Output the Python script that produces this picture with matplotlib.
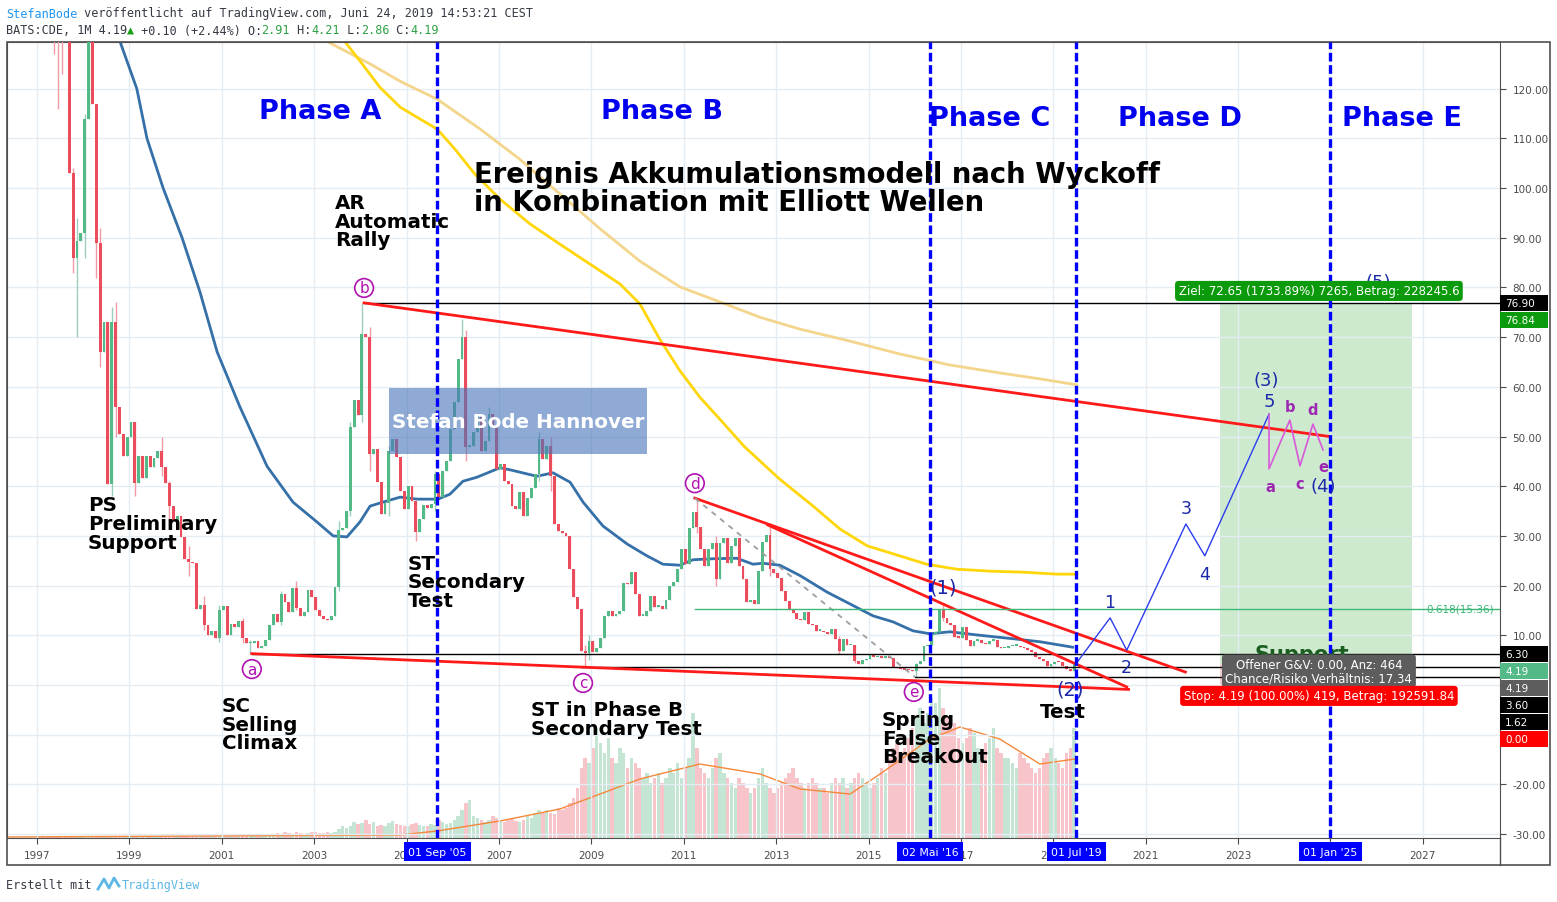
# Wyckoff accumulation + Elliott waves on CDE monthly chart (TradingView style)
import numpy as np
import matplotlib.pyplot as plt
from matplotlib.patches import Rectangle
from matplotlib.transforms import blended_transform_factory

# ---------------- data ----------------
# monthly closes from Jan 1997 to Jun 2019 (open = previous close)
first_open = 240.0
closes = [
    230, 215, 200, 185, 170, 160, 150, 140, 103, 86, 89.3, 91,          # 1997
    114, 138, 117, 89, 67, 73, 40.4, 73, 56, 50.5, 46, 50,               # 1998
    53, 40.7, 46, 41.7, 46, 43.8, 45.6, 47, 43.8, 40.6, 36, 33,          # 1999
    34, 29.7, 25.3, 24.7, 24.5, 15.3, 16, 12, 10, 10.8, 9.4, 15,         # 2000
    15.8, 10, 12.3, 11.7, 12.8, 9.4, 8.4, 8.5, 8.9, 7.4, 7.9, 9,         # 2001
    12, 14.3, 12.6, 18.3, 16.6, 14.6, 19.6, 15.5, 13.8, 14.7, 19.1, 17.8,  # 2002
    15.1, 13.8, 13.3, 13.0, 13.8, 19.8, 31.2, 31.5, 35, 52, 57.4, 54.3,  # 2003
    70.6, 70, 46.5, 47.5, 40.8, 34.4, 36.6, 47, 49.5, 45.9, 39, 35.4,    # 2004
    40, 37, 30.8, 33.4, 36.2, 35.6, 36.4, 42.5, 37.8, 43, 45, 51.5,      # 2005
    57, 65.6, 70, 47.9, 48, 50.9, 54, 47, 49, 54.5, 52, 43.5,            # 2006
    44.5, 41, 40.4, 36, 35.5, 38.8, 34, 37.6, 39.6, 42.4, 49.5, 45.5,    # 2007
    48, 42, 32.4, 31, 30.5, 30, 23.3, 17.7, 15.3, 6.8, 6.5, 8.9,         # 2008
    6.6, 7.4, 9.5, 13.9, 14.9, 13.8, 14.3, 14.9, 20.5, 20.3, 22.7, 18.3, # 2009
    13.9, 13.9, 14.9, 18, 15.7, 15.9, 15.3, 17, 19.9, 20.7, 23.3, 27.4,  # 2010
    24.3, 31.6, 34.8, 31.8, 27.4, 24, 27.4, 28.6, 21.3, 28.6, 29.6, 24.6,  # 2011
    28, 29.6, 24, 21.3, 16.7, 17, 16.3, 23, 28.8, 30.2, 23.3, 22.5,      # 2012
    21.5, 19, 16.8, 15, 14.5, 13.3, 13.0, 14.7, 12.3, 12.0, 10.9, 10.9,  # 2013
    10.6, 10.3, 11.2, 9.3, 6.8, 9.3, 8.0, 8.1, 4.8, 4.3, 5.0, 5.2,       # 2014
    6.0, 5.6, 5.6, 5.5, 5.8, 5.4, 3.6, 3.4, 3.2, 3.1, 3.0, 2.8,          # 2015
    4.2, 4.9, 7.8, 8.1, 10.3, 10.7, 15.3, 13.5, 12.5, 12.1, 9.7, 9.5,    # 2016
    11.7, 9.1, 7.8, 8.9, 9.0, 8.4, 8.2, 8.9, 9.0, 7.7, 7.4, 7.5,         # 2017
    7.8, 7.9, 7.9, 7.6, 7.4, 7.1, 6.6, 5.6, 5.3, 4.9, 3.8, 4.3,          # 2018
    4.7, 4.6, 3.9, 3.3, 2.91, 4.19,                                       # 2019
]
# months (index from Jan 1997) with visible wicks
wick_month = [4, 5, 6, 9, 10, 12, 15, 16, 19, 20, 25, 32, 34, 39, 43, 47, 53, 55,
              63, 67, 78, 81, 84, 86, 91, 98, 103, 110, 111, 117, 130, 133, 142, 143,
              171, 176, 190, 208, 212, 228, 235, 269]
wick_high = [195, 180, 170, 104, 94, 115, 117, 92, 76, 77, 52, 50, 41, 28, 18, 16, 13.5, 9.0,
             19, 21, 33, 53, 76.9, 72, 48, 37, 43, 73.6, 71.5, 56, 51, 50, 8, 10,
             37.6, 30, 32.5, 9.8, 8.0, 4.5, 16.5, 4.21]
wick_low = [127, 116, 123, 83, 70, 86, 82, 64, 38, 50, 38, 42, 33, 22, 11, 8.7, 8.5, 6.3,
            12, 15, 19, 34, 53, 43, 34, 29, 35, 66, 45, 49, 41, 39, 3.6, 5,
            30.5, 20, 22, 6.3, 4.5, 1.62, 12.8, 2.86]

# monthly volume (millions, roughly)
volume = [
    2, 2, 2, 2, 2, 2, 2, 2, 2, 2, 2, 2,
    2, 2, 2, 2, 2, 2, 2, 2, 2, 2, 2, 2,
    2, 2, 2, 2, 2, 2, 2, 2, 2, 2, 2, 2,
    2, 2, 2, 2, 2, 2, 2, 2, 2, 2, 2, 2,
    2, 2, 2, 2, 2, 2, 2, 3, 2, 2, 3, 3,
    3, 4, 5, 4, 6, 5, 4, 6, 5, 4, 5, 6,
    6, 5, 5, 6, 5, 6, 9, 12, 10, 12, 16, 14,
    15, 18, 14, 16, 12, 13, 12, 15, 17, 14, 13, 12,
    12, 14, 15, 13, 12, 12, 14, 13, 18, 16, 14, 15,
    18, 22, 28, 35, 38, 22, 20, 18, 16, 18, 22, 20,
    18, 16, 18, 20, 17, 16, 18, 22, 20, 25, 28, 25,
    28, 25, 24, 30, 28, 30, 35, 40, 50, 70, 80, 75,
    90, 110, 95, 85, 100, 80, 75, 90, 85, 70, 80, 75,
    70, 60, 65, 55, 60, 65, 55, 60, 70, 65, 75, 60,
    70, 80, 125, 90, 70, 65, 60, 70, 80, 85, 65, 60,
    55, 50, 60, 55, 50, 45, 50, 60, 70, 55, 50, 45,
    50, 55, 60, 65, 70, 60, 55, 50, 55, 60, 55, 50,
    50, 45, 55, 60, 55, 60, 50, 55, 60, 65, 60, 55,
    50, 55, 60, 70, 65, 80, 90, 95, 85, 90, 100, 110,
    120, 130, 115, 125, 140, 135, 150, 130, 120, 110, 115, 100,
    95, 100, 110, 105, 90, 85, 95, 100, 110, 90, 85, 80,
    80, 75, 70, 85, 80, 75, 70, 65, 70, 80, 85, 90,
    80, 75, 70, 85, 90, 110,
]

# moving averages (year, price)
blue_t = [1998.80, 1999.16, 1999.38, 1999.73, 2000.14, 2000.53, 2000.90, 2001.39, 2001.98,
          2002.54, 2003.06, 2003.41, 2003.71, 2003.99, 2004.21, 2004.49, 2004.86, 2005.23,
          2005.68, 2005.94, 2006.22, 2006.52, 2007.02, 2007.24, 2007.82, 2008.17, 2008.54,
          2008.82, 2009.25, 2009.77, 2010.20, 2010.55, 2010.92, 2011.20, 2011.63, 2012.15,
          2012.50, 2012.71, 2013.08, 2013.52, 2014.10, 2014.60, 2015.10, 2015.53, 2015.96,
          2016.33, 2016.76, 2017.41, 2018.13, 2018.71, 2019.29, 2019.42]
blue_v = [129.4, 120, 110, 100, 90, 79, 67, 56, 44,
          36.8, 32.8, 30, 29.8, 32.8, 36, 36.8, 37.8, 37.4,
          37.4, 38.4, 41, 41.8, 43.7, 43.3, 42, 42.7, 40.8,
          36.8, 32, 28.4, 26, 24.3, 24.1, 25.2, 25.4, 25.5,
          24.3, 24.5, 24.1, 22, 18.7, 16.3, 13.9, 12.7, 10.9,
          10.3, 10.7, 10, 9.3, 8.7, 7.8, 7.6]
yellow_t = [2003.67, 2003.99, 2004.42, 2004.86, 2005.29, 2005.66, 2006.05, 2006.48, 2007.02,
            2007.67, 2008.32, 2008.97, 2009.62, 2010.05, 2010.48, 2010.92, 2011.35, 2011.78,
            2012.32, 2013.08, 2013.80, 2014.38, 2014.97, 2015.53, 2016.26, 2016.91, 2017.63,
            2018.34, 2019.08, 2019.51]
yellow_v = [129.4, 125.6, 120.3, 116.3, 113.9, 111.9, 107.8, 102.8, 97.8,
            92.8, 88.7, 84.7, 80.7, 76.7, 69.6, 63.2, 57.9, 53.5,
            47.9, 41.4, 36.0, 31.4, 28.0, 26.4, 24.3, 23.3, 22.9,
            22.7, 22.3, 22.3]
pale_t = [2003.30, 2004.21, 2004.86, 2005.66, 2006.59, 2007.45, 2008.32, 2009.19, 2010.05,
          2010.92, 2011.78, 2012.65, 2013.52, 2014.60, 2015.68, 2016.76, 2017.84, 2018.71, 2019.51]
pale_v = [129.4, 125, 121.5, 117.9, 111.9, 105.8, 98.8, 91.8, 85.3,
          80.1, 77.1, 74.0, 71.6, 69.2, 66.6, 64.4, 62.8, 61.6, 60.4]
vma_t = [1996.35, 2004.86, 2005.66, 2007.02, 2008.32, 2009.19, 2010.05, 2011.35, 2012.65,
         2013.52, 2014.60, 2015.25, 2016.33, 2016.98, 2017.84, 2018.71, 2019.47]
vma_v = [1, 3, 7, 17, 29, 44, 59, 74, 64, 49, 44, 64, 99, 111, 99, 74, 79]

# drawings
phase_dates = [2005.667, 2016.333, 2019.5, 2025.0]
phase_tags = ["01 Sep '05", "02 Mai '16", "01 Jul '19", "01 Jan '25"]
level_start = [2004.08, 2001.65, 2008.80, 2016.0]
level_value = [76.9, 6.3, 3.6, 1.62]
red_lines = [((2004.08, 76.9), (2024.98, 50.0)),
             ((2001.65, 6.3), (2020.63, -0.9)),
             ((2011.24, 37.6), (2021.86, 2.6)),
             ((2012.82, 32.2), (2020.59, -0.4))]
fib_value = 15.36
proj_t = [2019.47, 2020.23, 2020.59, 2021.87, 2022.28, 2023.67]
proj_v = [4.0, 13.5, 7.0, 32.4, 26.0, 54.5]
tri_t = [2023.67, 2023.67, 2024.12, 2024.34, 2024.62, 2024.84]
tri_v = [54.5, 43.5, 53.3, 44.1, 52.5, 47.3]
entry, target, stop = 4.19, 76.84, 0.0
pos_t0, pos_t1 = 2022.60, 2026.76

# ---------------- figure ----------------
W, H = 1557, 903
fig = plt.figure(figsize=(W / 100, H / 100), dpi=100)
fig.patch.set_facecolor('white')

def fx(px):
    return px / W

def fy(py):
    return 1 - py / H

ax = fig.add_axes([fx(7), fy(839), fx(1500) - fx(7), fy(43) - fy(839)])
axv = ax.twinx()
ax.set_zorder(axv.get_zorder() + 1)
ax.patch.set_visible(False)
axv.set_facecolor('white')
ax.set_xlim(1996.35, 2028.67)
ax.set_ylim(-30.8, 129.4)
axv.set_ylim(0, 796)
axv.set_yticks([])

grid_c = '#e4edf3'
years = np.arange(1997, 2028, 2)
ax.set_xticks(years)
# 2025 sits fully under the date box
ax.set_xticklabels(['' if y == 2025 else str(y) for y in years])
ticks_y = np.arange(-30, 121, 10)
ax.set_yticks(ticks_y)
# 0 and -10 are hidden under the price tags on the scale
ax.set_yticklabels(['' if v in (0, -10) else '%.2f' % v for v in ticks_y])
ax.grid(True, color=grid_c, lw=1, zorder=0)
ax.yaxis.tick_right()
ax.tick_params(axis='y', labelsize=7.5, colors='#4b4b4b', length=4, pad=5)
ax.tick_params(axis='x', labelsize=7.5, colors='#4b4b4b', length=4, pad=5)
for s in ax.spines.values():
    s.set_color('#505050')
for s in axv.spines.values():
    s.set_visible(False)

# ---------------- candles + volume ----------------
months = np.arange(len(closes))
t = 1997 + (months + 0.4) / 12
c = np.array(closes, float)
o = np.concatenate([[first_open], c[:-1]])
up = c >= o
body_lo = np.minimum(o, c)
body_h = np.maximum(np.abs(c - o), 0.3)
w_hi = np.maximum(o, c)
w_lo = body_lo.copy()
for m, hv, lv in zip(wick_month, wick_high, wick_low):
    w_hi[m] = max(hv, w_hi[m])
    w_lo[m] = min(lv, w_lo[m])

axv.bar(t, volume, width=0.075, color=np.where(up, '#c4e5d3', '#f7c4ca'), zorder=1)
axv.plot(vma_t, vma_v, color='#f5883a', lw=1, zorder=2)

ax.plot(pale_t, pale_v, color='#f3d58c', lw=2, zorder=2)
ax.plot(yellow_t, yellow_v, color='#ffd60a', lw=2, zorder=2)
ax.plot(blue_t, blue_v, color='#3570a8', lw=2, zorder=2)

ax.vlines(t, w_lo, w_hi, colors=np.where(up, '#9ccfbb', '#f29aa3'), lw=1, zorder=3)
ax.bar(t, body_h, bottom=body_lo, width=0.062,
       color=np.where(up, '#53b987', '#eb4d5c'), zorder=3)

# ---------------- drawings ----------------
x_end = ax.get_xlim()[1]
for s0, v in zip(level_start, level_value):
    ax.plot([s0, x_end], [v, v], color='black', lw=1, zorder=4)
for (p0, p1) in red_lines:
    ax.plot([p0[0], p1[0]], [p0[1], p1[1]], color='#ff1a1a', lw=2, zorder=4)
ax.plot([2011.24, 2016.0], [37.6, 1.62], color='#9e9e9e', lw=1.3, ls=(0, (3, 3)), zorder=4)
ax.plot([2011.24, x_end], [fib_value, fib_value], color='#3cb878', lw=1, zorder=4)
ax.text(2028.55, fib_value, '0.618(15.36)', color='#3cb878', fontsize=7.5,
        ha='right', va='center', zorder=5)

# position tool
ax.add_patch(Rectangle((pos_t0, entry), pos_t1 - pos_t0, target - entry,
                       facecolor='#cdeacf', edgecolor='none', zorder=1))
ax.add_patch(Rectangle((pos_t0, stop), pos_t1 - pos_t0, entry - stop,
                       facecolor='#f6d0d3', edgecolor='none', zorder=1))
ax.text(2023.35, 6.2, 'Support', color='#1b5e20', fontsize=15, fontweight='bold',
        va='center', zorder=5)

# Elliott projection
ax.plot(proj_t, proj_v, color='#2b3df0', lw=1, zorder=4)
ax.plot(tri_t, tri_v, color='#d957d9', lw=1.2, zorder=4)

# vertical phase lines
bt = blended_transform_factory(ax.transData, ax.transAxes)
for d, tag in zip(phase_dates, phase_tags):
    ax.axvline(d, color='#0000ff', lw=2.4, ls=(0, (2.6, 1.1)), zorder=6)
    ax.text(d, -0.017, tag, transform=bt, ha='center', va='center', fontsize=7.8,
            color='white', zorder=10, clip_on=False,
            bbox=dict(boxstyle='square,pad=0.4', fc='#0000ff', ec='none'))

# watermark box
ax.add_patch(Rectangle((2004.62, 46.5), 5.58, 13.3, facecolor='#4a76bb', alpha=0.62,
                       edgecolor='none', zorder=5))
ax.text(2004.68, 53.1, 'Stefan Bode Hannover', color='white', fontsize=14.3,
        fontweight='bold', va='center', zorder=6)

# phase titles
blue = '#0000ee'
for x_, y_, s in [(2003.13, 115.5, 'Phase A'), (2010.53, 115.5, 'Phase B'),
                  (2017.63, 114.1, 'Phase C'), (2021.74, 114.1, 'Phase D'),
                  (2026.55, 114.1, 'Phase E')]:
    ax.text(x_, y_, s, color=blue, fontsize=19.5, fontweight='bold',
            ha='center', va='center', zorder=7)

ax.text(2006.46, 105.6, 'Ereignis Akkumulationsmodell nach Wyckoff\nin Kombination mit Elliott Wellen',
        fontsize=19.8, fontweight='bold', va='top', ha='left', linespacing=0.98, zorder=7)

for x_, y_, s in [(2003.45, 99.0, 'AR\nAutomatic\nRally'),
                  (1998.10, 38.2, 'PS\nPreliminary\nSupport'),
                  (2001.00, -2.2, 'SC\nSelling\nClimax'),
                  (2005.03, 26.4, 'ST\nSecondary\nTest'),
                  (2007.69, -3.0, 'ST in Phase B\nSecondary Test'),
                  (2015.29, -5.0, 'Spring\nFalse\nBreakOut'),
                  (2018.71, -3.4, 'Test')]:
    ax.text(x_, y_, s, fontsize=14.3, fontweight='bold', va='top', ha='left',
            linespacing=0.98, zorder=7)

# circled letters
mag = '#b012b0'
for x_, y_, s in [(2001.65, 3.2, 'a'), (2004.08, 79.9, 'b'), (2008.82, 0.4, 'c'),
                  (2011.24, 40.6, 'd'), (2015.98, -1.4, 'e')]:
    ax.text(x_, y_, s, color=mag, fontsize=11, ha='center', va='center', zorder=7,
            bbox=dict(boxstyle='circle,pad=0.12', fc='white', ec=mag, lw=1.2))

# wave counts
navy = '#1c2aa8'
for x_, y_, s, fs in [(2016.61, 19.7, '(1)', 14), (2019.36, -0.8, '(2)', 14),
                      (2020.23, 16.7, '1', 12.5), (2020.59, 3.6, '2', 12.5),
                      (2021.87, 35.6, '3', 12.5), (2022.28, 22.3, '4', 12.5),
                      (2023.60, 61.4, '(3)', 13), (2023.67, 57.1, '5', 13),
                      (2024.84, 40.0, '(4)', 13), (2026.03, 81.0, '(5)', 13)]:
    ax.text(x_, y_, s, color=navy, fontsize=fs, ha='center', va='center', zorder=7)
for x_, y_, s in [(2023.70, 40.0, 'a'), (2024.12, 56.1, 'b'), (2024.34, 40.6, 'c'),
                  (2024.62, 55.5, 'd'), (2024.84, 43.9, 'e')]:
    ax.text(x_, y_, s, color='#9c27b0', fontsize=10.5, fontweight='bold',
            ha='center', va='center', zorder=7)

# position tool labels
ax.text(2024.75, 79.3, 'Ziel: 72.65 (1733.89%) 7265, Betrag: 228245.6', color='white',
        fontsize=8.5, ha='center', va='center', zorder=9,
        bbox=dict(boxstyle='round,pad=0.3,rounding_size=0.3', fc='#0b9a0b', ec='none'))
ax.text(2024.75, 2.8, 'Offener G&V: 0.00, Anz: 464\nChance/Risiko Verhältnis: 17.34',
        color='white', fontsize=8.5, ha='center', va='center', linespacing=1.0, zorder=9,
        bbox=dict(boxstyle='round,pad=0.3,rounding_size=0.3', fc='#5d5d5d', ec='none'))
ax.text(2024.75, -2.2, 'Stop: 4.19 (100.00%) 419, Betrag: 192591.84', color='white',
        fontsize=8.5, ha='center', va='center', zorder=9,
        bbox=dict(boxstyle='round,pad=0.3,rounding_size=0.3', fc='#ff0000', ec='none'))

# price tags on the right scale
tag_vals = [76.90, 76.84, 6.30, 4.19, 4.19, 3.60, 1.62, 0.00]
tag_cols = ['black', '#0b9a0b', 'black', '#53b987', '#5d5d5d', 'black', 'black', '#ff0000']
fig.canvas.draw()
prev = None
for v, col in zip(tag_vals, tag_cols):
    yd = ax.transData.transform((2000, v))[1]
    if prev is not None and yd > prev - 17:
        yd = prev - 17
    prev = yd
    fig.add_artist(Rectangle((fx(1500), (yd - 8) / H), 48 / W, 16 / H, transform=fig.transFigure,
                             facecolor=col, edgecolor='none', zorder=20))
    fig.text(fx(1505), yd / H, '%.2f' % v, color='white', fontsize=7.5, va='center',
             ha='left', zorder=21)

# outer frame
fig.add_artist(Rectangle((fx(7), fy(866)), fx(1550) - fx(7), fy(43) - fy(866),
                         transform=fig.transFigure, fill=False, edgecolor='#505050', lw=1.2))
fig.add_artist(plt.Line2D([fx(1500), fx(1500)], [fy(839), fy(866)], color='#505050', lw=1))

# header / footer
mono = 'DejaVu Sans Mono'
cw = 7.1
fig.text(fx(6), fy(14), 'StefanBode', family=mono, fontsize=8.5, color='#2196f3', va='center')
fig.text(fx(6 + 10 * cw), fy(14), ' veröffentlicht auf TradingView.com, Juni 24, 2019 14:53:21 CEST',
         family=mono, fontsize=8.5, color='#363a45', va='center')
parts = [('BATS:CDE, 1M 4.19', '#363a45'), ('▲', '#1a9e1a'), (' +0.10 (+2.44%) O:', '#363a45'),
         ('2.91', '#2ea043'), (' H:', '#363a45'), ('4.21', '#2ea043'), (' L:', '#363a45'),
         ('2.86', '#2ea043'), (' C:', '#363a45'), ('4.19', '#2ea043')]
pos = 0
for s, col in parts:
    fig.text(fx(6 + pos * cw), fy(31), s, family=mono, fontsize=8.5, color=col, va='center')
    pos += len(s)
fig.text(fx(6), fy(886), 'Erstellt mit', family=mono, fontsize=8.5, color='#363a45', va='center')
fig.text(fx(122), fy(886), 'TradingView', family=mono, fontsize=8.5, color='#5eb6e4', va='center')
fig.add_artist(plt.Line2D([fx(98), fx(104), fx(109), fx(114), fx(119)],
                          [fy(890), fy(880), fy(889), fy(879), fy(887)],
                          color='#5eb6e4', lw=2))

fig.savefig('out.png', dpi=100)
